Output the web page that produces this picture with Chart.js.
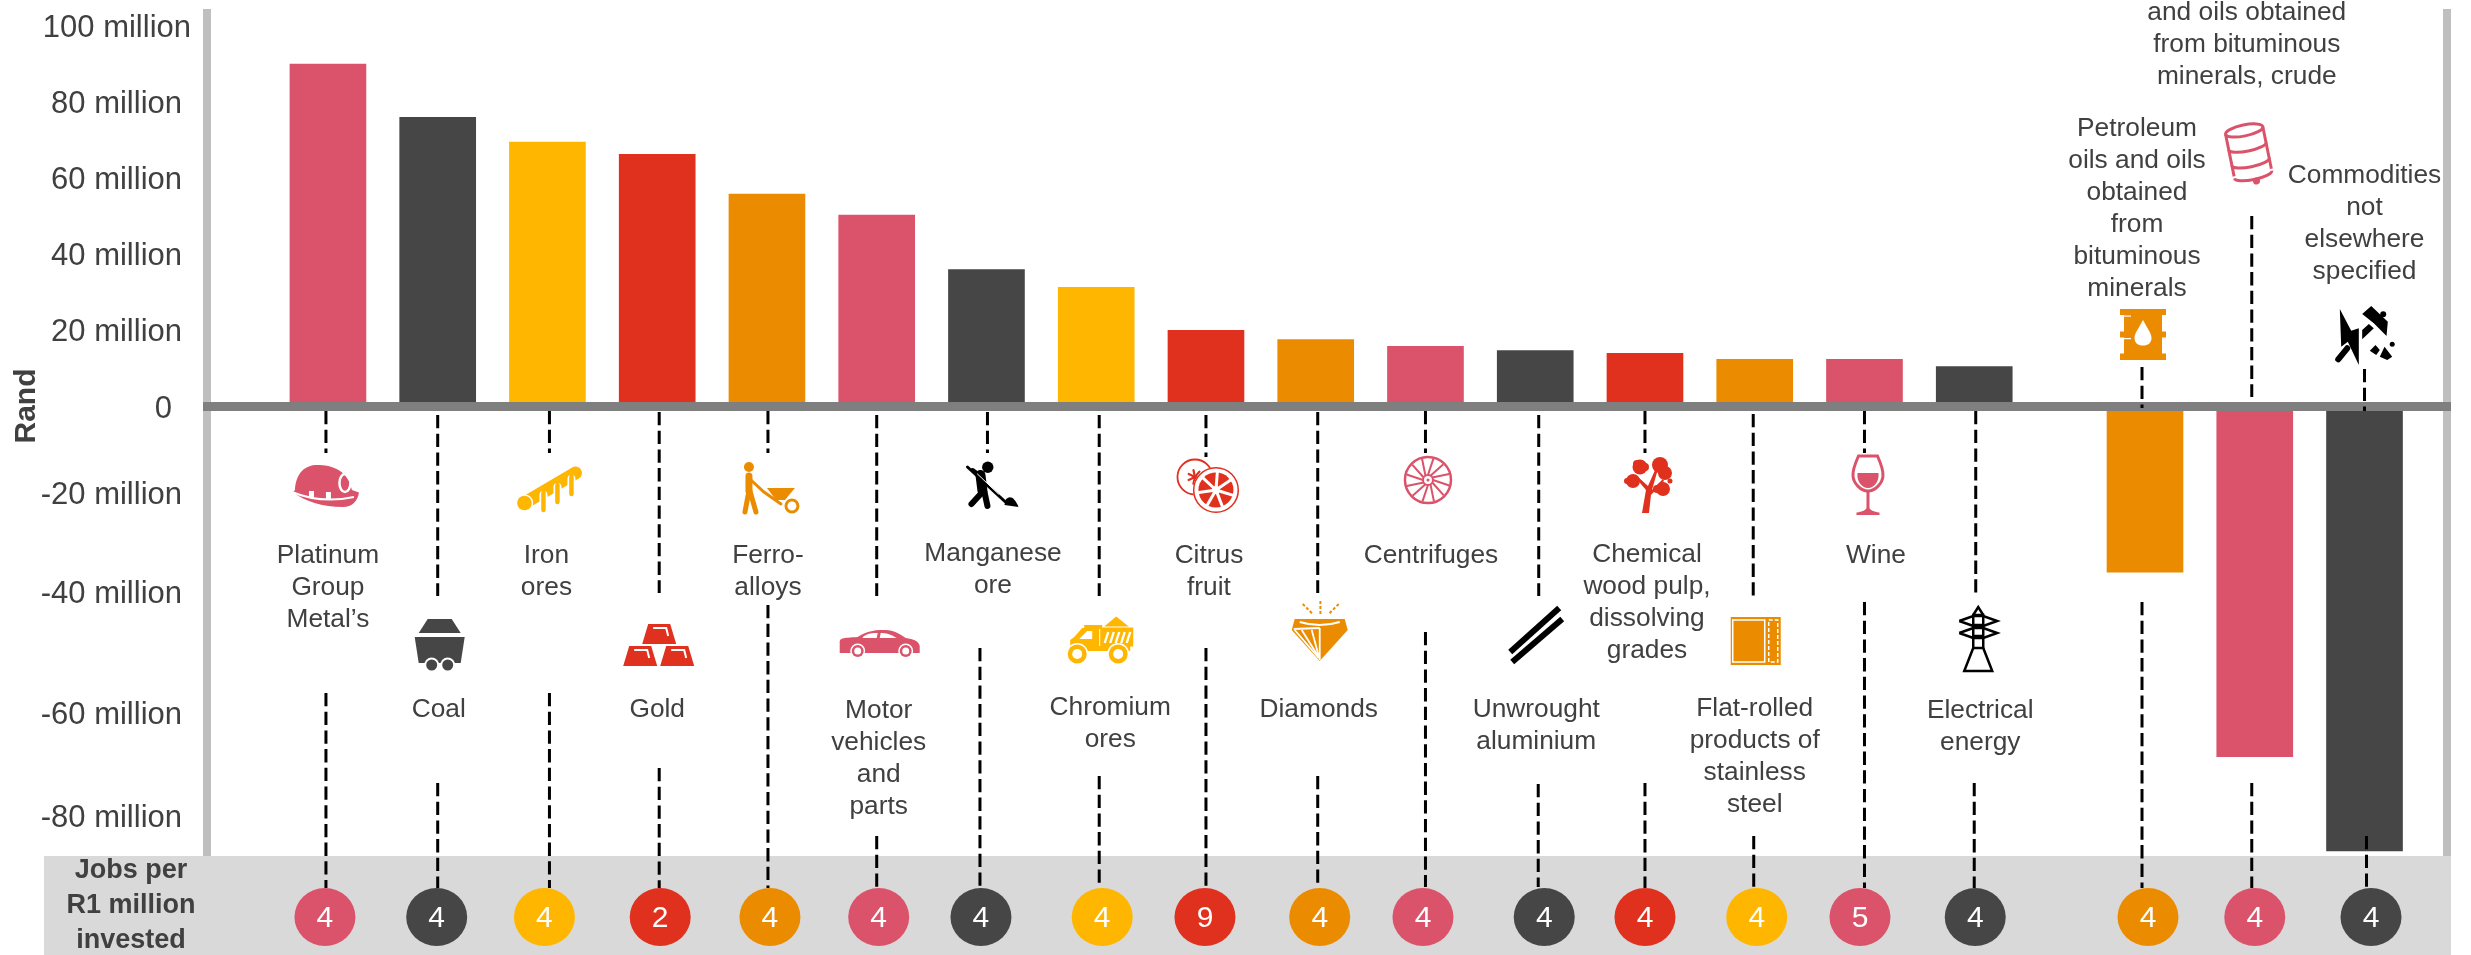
<!DOCTYPE html>
<html>
<head>
<meta charset="utf-8">
<title>Rand per commodity and jobs per R1 million invested</title>
<script src="https://cdn.jsdelivr.net/npm/chart.js@4"></script>
<style>
  html, body { margin: 0; background: #fff; }
  canvas { display: block; }
</style>
</head>
<body>
<canvas id="myChart" width="2471" height="955"></canvas>
<script>
// values in millions of rand, largest surplus first, then the three deficits
const categories = ["Platinum Group Metal's", "Coal", "Iron ores", "Gold", "Ferro-alloys", "Motor vehicles and parts",
  "Manganese ore", "Chromium ores", "Citrus fruit", "Diamonds", "Centrifuges", "Unwrought aluminium",
  "Chemical wood pulp, dissolving grades", "Flat-rolled products of stainless steel", "Wine", "Electrical energy",
  "Petroleum oils and oils obtained from bituminous minerals",
  "Petroleum oils and oils obtained from bituminous minerals, crude", "Commodities not elsewhere specified"];
const randValues = [90, 76, 69.5, 66.3, 55.8, 50.3, 36, 31.3, 20, 17.6, 15.8, 14.7, 14, 12.4, 12.4, 10.5, -36, -68.5, -87];
const jobsValues = [4, 4, 4, 2, 4, 4, 4, 4, 9, 4, 4, 4, 4, 4, 5, 4, 4, 4, 4];
const yTicks = [-80, -60, -40, -20, 0, 20, 40, 60, 80, 100];
const jobsHeading = ["Jobs per", "R1 million", "invested"];

const labelLines = [["Platinum", "Group", "Metal’s"], ["Coal"], ["Iron", "ores"], ["Gold"], ["Ferro-", "alloys"],
  ["Motor", "vehicles", "and", "parts"], ["Manganese", "ore"], ["Chromium", "ores"], ["Citrus", "fruit"], ["Diamonds"],
  ["Centrifuges"], ["Unwrought", "aluminium"], ["Chemical", "wood pulp,", "dissolving", "grades"],
  ["Flat-rolled", "products of", "stainless", "steel"], ["Wine"], ["Electrical", "energy"],
  ["Petroleum", "oils and oils", "obtained", "from", "bituminous", "minerals"],
  ["and oils obtained", "from bituminous", "minerals, crude"], ["Commodities", "not", "elsewhere", "specified"]];

const PINK = "#DB536A", DARK = "#464646", YELLOW = "#FFB600", RED = "#E0301E", ORANGE = "#EB8C00", BLACK = "#000";
const barColors = [PINK, DARK, YELLOW, RED, ORANGE, PINK, DARK, YELLOW, RED, ORANGE, PINK, DARK, RED, ORANGE, PINK, DARK, ORANGE, PINK, DARK];
const jobColors = [PINK, DARK, YELLOW, RED, ORANGE, PINK, DARK, YELLOW, RED, ORANGE, PINK, DARK, RED, YELLOW, PINK, DARK, ORANGE, PINK, DARK];

const GROUP_GAP = 0.556;   // extra slots between the surplus bars and the deficit bars

// the negative half of the axis is not evenly spaced, so the y scale runs through these knots
const knotValues = [-88, -80, -60, -40, -20, 0, 104.47];
const knotOffsets = [847, 807, 704, 583, 484, 397.5, 0];
const tickNudge = { "100": 9, "0": -10 };

// hand placed furniture around each bar, dx is measured from the bar centre
// [labelDx, labelY, icon, iconDx, iconY, jobDx, [leader dx, y0, y1], [leader dx, y0, y1]]
const furniture = [
  [0, 556, "hat", -2, 486, -3, [-2, 411, 453], [-2, 693, 888]],
  [1, 710, "cart", 2, 645, -1, [0, 415, 596], [0, 783, 888]],
  [-1, 556, "rod", 2, 489, -3, [2, 411, 453], [2, 693, 888]],
  [0, 710, "bars", 2, 645, 3, [2, 412, 593], [2, 768, 888]],
  [1, 556, "barrow", 4, 488, 3, [1, 411, 453], [1, 605, 888]],
  [2, 711, "car", 3, 644, 2, [0, 415, 596], [0, 836, 888]],
  [6.5, 554, "digger", 6, 485, -5.5, [1, 412, 453], [-6.5, 648, 887]],
  [14, 708, "truck", 4, 640, 6, [3, 415, 596], [3, 776, 887]],
  [3, 556, "citrus", 2, 485, -1, [0, 415, 457], [0, 648, 887]],
  [3, 710, "diamond", 4, 632, 4, [2, 412, 593], [2, 776, 887]],
  [5.5, 556, "wheel", 2.5, 480, -2.5, [0, 411, 453], [0, 632, 887]],
  [1, 710, "ingots", 1, 635, 9, [3.5, 415, 596], [3, 784, 887]],
  [2, 555, "tree", 4, 486, 0, [0, 411, 453], [0, 783, 888]],
  [0, 709, "sheet", 1, 641, 2, [-1.5, 414, 596], [-1, 836, 887]],
  [11.5, 556, "wine", 3, 485, -4.5, [0, 411, 453], [0, 602, 888]],
  [6, 711, "pylon", 4, 639, 1, [1.5, 411, 593], [0, 783, 888]],
  [-8, 129, "drum", -2, 334, 3, [-3, 367, 408], [-3, 602, 888]],
  [-8, 13, "tilted", -6, 153, 0, [-3, 216, 397], [-3, 783, 888]],
  [0, 176, "hammer", 0, 336, 6.5, [0, 369, 411], [2, 836, 887]]
];

class KnottedScale extends Chart.LinearScale {
  getPixelForValue(value) {
    let i = 0;
    while (i < knotValues.length - 2 && value > knotValues[i + 1]) i++;
    const t = (value - knotValues[i]) / (knotValues[i + 1] - knotValues[i]);
    return this.top + knotOffsets[i] + t * (knotOffsets[i + 1] - knotOffsets[i]);
  }
  getValueForPixel(pixel) {
    const off = pixel - this.top;
    let i = 0;
    while (i < knotOffsets.length - 2 && off < knotOffsets[i + 1]) i++;
    const t = (off - knotOffsets[i]) / (knotOffsets[i + 1] - knotOffsets[i]);
    return knotValues[i] + t * (knotValues[i + 1] - knotValues[i]);
  }
  _computeLabelItems(area) {
    const items = super._computeLabelItems(area);
    items.forEach((item, i) => {
      const pos = (item.options || item).translation;
      pos[0] += tickNudge[this.ticks[i].value] || 0;
      pos[1] += 2.5;
    });
    return items;
  }
}
KnottedScale.id = "knotted";
KnottedScale.defaults = Chart.LinearScale.defaults;
Chart.register(KnottedScale);

// little line drawings, each centred on 0,0
function blob(c, path) { c.fill(new Path2D(path)); }
function disc(c, x, y, r) { c.beginPath(); c.arc(x, y, r, 0, Math.PI * 2); c.fill(); }
function ring(c, x, y, r) { c.beginPath(); c.arc(x, y, r, 0, Math.PI * 2); c.stroke(); }
function seg(c, ...p) {
  c.beginPath();
  c.moveTo(p[0], p[1]);
  for (let i = 2; i < p.length; i += 2) c.lineTo(p[i], p[i + 1]);
  c.stroke();
}
const icons = {
  hat(c, col) {
    blob(c, "M-31 4C-30-14-20-21-9-21C6-21 22-16 26 4L33 6.5C32 15 26 21 17 21C-3 21-22 15-33 6Z");
    c.strokeStyle = "#fff"; c.lineWidth = 2;
    c.stroke(new Path2D("M-34 6Q-5 18 28 11"));
    c.fillStyle = "#fff";
    c.fillRect(-17, 5, 5, 7); c.fillRect(0, 6, 5, 7);
    c.lineWidth = 2.5;
    c.beginPath(); c.ellipse(19, -3, 5.5, 9, 0, 0, Math.PI * 2); c.stroke();
  },
  cart(c, col) {
    blob(c, "M-21-12L-12-26H12L21-12Z");
    blob(c, "M-25-8H25L21 18H-21Z");
    c.fillStyle = "#fff"; disc(c, -8, 20, 7.5); disc(c, 8, 20, 7.5);
    c.fillStyle = col; disc(c, -8, 20, 5.5); disc(c, 8, 20, 5.5);
  },
  rod(c, col) {
    c.strokeStyle = col; c.lineCap = "round";
    c.lineWidth = 13; seg(c, -25, 14, 26, -16);
    for (const [x, y0, y1] of [[-6, 6, 21], [8, -2, 13], [22, -10, 5]]) {
      c.strokeStyle = "#fff"; c.lineWidth = 8; seg(c, x, y0, x, y1 - 1);
      c.strokeStyle = col; c.lineWidth = 4.5; seg(c, x, y0 - 2, x, y1);
    }
    c.fillStyle = "#fff"; disc(c, -25, 14, 8.7);
    c.fillStyle = col; disc(c, -25, 14, 7.3);
  },
  bars(c, col) {
    const bar = (x, y) => {
      c.fillStyle = col;
      blob(c, `M${x - 11} ${y - 10}H${x + 11}L${x + 17} ${y + 10}H${x - 17}Z`);
      c.strokeStyle = "#fff"; c.lineWidth = 2;
      seg(c, x - 6, y - 6, x + 7, y - 6, x + 9, y + 2);
    };
    bar(0, -11); bar(-19, 11); bar(18, 11);
  },
  barrow(c, col) {
    c.strokeStyle = col; c.lineCap = "round";
    disc(c, -22, -21, 5);
    c.lineWidth = 7; seg(c, -22, -12, -22, 3);
    c.lineWidth = 5; seg(c, -22, 3, -26, 24); seg(c, -21, 3, -15, 24);
    c.lineWidth = 3; seg(c, -20, -8, -7, 4, 10, 16);
    blob(c, "M-4 0H24L14 12H5Z");
    c.lineWidth = 3; ring(c, 21, 18, 6);
  },
  car(c, col) {
    blob(c, "M-40 -1C-40-6-38-6-22-7C-12-14-2-14 6-14C14-14 20-10 26-6C34-5 39-3 40 2V9H-40Z");
    c.fillStyle = "#fff";
    blob(c, "M-17-7C-12-11-7-11-2-11L-3-6H-17ZM1-11C6-11 11-10 17-6H0Z");
    disc(c, -22, 7, 7.5); disc(c, 26, 7, 7.5);
    c.fillStyle = col; disc(c, -22, 7, 6); disc(c, 26, 7, 6);
    c.fillStyle = "#fff"; disc(c, -22, 7, 3.5); disc(c, 26, 7, 3.5);
  },
  digger(c, col) {
    c.strokeStyle = col; c.lineCap = "round";
    disc(c, -4.7, -17.7, 5.7);
    c.lineWidth = 10; seg(c, -12, -10, -10, 6);
    c.lineWidth = 6; seg(c, -10, 7, -21, 19); seg(c, -8, 7, -5, 21);
    c.lineWidth = 4; seg(c, -13, -10, -20, -15);
    c.lineWidth = 3; seg(c, -25, -18, 13, 17);
    c.strokeStyle = "#fff"; c.lineWidth = 1; seg(c, -15, -11, 6, 9);
    blob(c, "M13 15C17 10 22 12 26 22L12 20Z");
  },
  truck(c, col) {
    c.fillRect(0, -12.5, 33, 19);
    blob(c, "M4-13.5L16-23.5L28.5-13.5Z");
    c.fillRect(-16, -15, 18, 4);
    blob(c, "M-1-12H-18L-26-3L-30 0V11H30V6H-1Z");
    c.fillStyle = "#fff";
    blob(c, "M-21-1L-13-9H-8V-1Z");
    c.strokeStyle = "#fff"; c.lineWidth = 2.4;
    for (let x = 6; x < 30; x += 5.5) seg(c, x + 2, -8, x - 1.5, 3);
    disc(c, -23, 14, 11); disc(c, 18, 14, 11);
    c.fillStyle = col; disc(c, -23, 14, 9.5); disc(c, 18, 14, 9.5);
    c.fillStyle = "#fff"; disc(c, -23, 14, 5); disc(c, 18, 14, 5);
  },
  citrus(c, col) {
    c.strokeStyle = col; c.lineWidth = 1.8;
    ring(c, -13, -8, 17.5);
    c.lineCap = "round"; c.lineWidth = 2.2;
    for (let a = 0; a < 7; a++) seg(c, -13, -8, -13 + 7 * Math.cos(a * .9), -8 + 7 * Math.sin(a * .9));
    c.fillStyle = "#fff"; disc(c, 8, 5, 23);
    c.lineWidth = 1.5; ring(c, 8, 5, 22.3);
    c.fillStyle = col; disc(c, 8, 5, 17.5);
    c.strokeStyle = "#fff"; c.lineWidth = 3; c.lineCap = "butt";
    for (let a = 0; a < 7; a++) seg(c, 8, 5, 8 + 19 * Math.cos(a * .898 + .3), 5 + 19 * Math.sin(a * .898 + .3));
    c.fillStyle = "#fff"; disc(c, 8, 5, 4);
  },
  diamond(c, col) {
    blob(c, "M-25-13H25L28-2L0 29L-28-2Z");
    c.strokeStyle = "#fff"; c.lineWidth = 2;
    c.stroke(new Path2D("M-20-10C-7-6 7-6 20-10"));
    c.lineWidth = 1.8;
    seg(c, -26, -3, 0, -4);
    seg(c, -25, -2, -1, 26); seg(c, -18, -2, -.5, 26); seg(c, -8, -2, -.5, 26); seg(c, 0, -4, 0, 28);
    c.strokeStyle = col; c.lineWidth = 2; c.setLineDash([3, 2]);
    seg(c, .7, -31, .7, -17); seg(c, -17, -28, -7, -18); seg(c, 19, -28, 9, -18);
    c.setLineDash([]);
  },
  wheel(c, col) {
    c.strokeStyle = col; c.lineWidth = 2.5; ring(c, 0, 0, 23);
    c.lineWidth = 2;
    for (let a = 0; a < 12; a++) {
      const t = a * Math.PI / 6;
      seg(c, 5 * Math.cos(t), 5 * Math.sin(t), 22 * Math.cos(t + .25), 22 * Math.sin(t + .25));
    }
    ring(c, 0, 0, 5);
    disc(c, 0, 0, 1.5);
  },
  ingots(c, col) {
    c.strokeStyle = col; c.lineWidth = 6;
    seg(c, -26, 17, 23, -27);
    seg(c, -24, 27, 26, -16);
  },
  tree(c, col) {
    blob(c, "M-7 27L-3 4L-14-9L-12-10L-1 0L7-18L9-17L3 4L14-7L15-5L2 9L0 27Z");
    for (const [x, y, r] of [[-9, -19, 7.5], [-12, -22, 4], [-4, -19, 4], [11, -21, 8], [16, -13, 7], [-16, -5, 7], [-22, -5, 3], [14, 3, 7], [21, -5, 2.5], [8, 3, 4]]) disc(c, x, y, r);
  },
  sheet(c, col) {
    c.fillRect(-25, -24, 50, 48);
    c.strokeStyle = "#fff"; c.lineWidth = 1.5;
    c.strokeRect(-23, -21, 32, 42);
    c.setLineDash([4, 2]); c.strokeRect(13, -21, 9, 42); c.setLineDash([]);
  },
  wine(c, col) {
    c.strokeStyle = col; c.lineWidth = 3;
    c.stroke(new Path2D("M-9-29H10C14-20 16-14 15.5-9C15-2 8 6 .5 6C-7 6-14-2-14.5-9C-15-14-13-20-9-29Z"));
    blob(c, "M-10-12H11C12-4 7 3 .5 3C-6 3-11-4-10-12Z");
    seg(c, .5, 6, .5, 26);
    blob(c, "M-11 27.5C-5 27-2 25 .5 22C3 25 6 27 12 27.5V30H-11Z");
  },
  pylon(c, col) {
    c.strokeStyle = col; c.lineWidth = 2.5;
    seg(c, -5, -24, 0, -32, 5, -24);
    c.strokeRect(-5, -24, 10, 33);
    seg(c, -5, -14, 5, -14); seg(c, -5, -3, 5, -3);
    seg(c, -19, -18, -5, -23, 5, -23, 19, -18, 5, -13, -5, -13, -19, -18);
    seg(c, -19, -6, -5, -11, 5, -11, 19, -6, 5, -1, -5, -1, -19, -6);
    seg(c, -5, 9, -14, 32, 14, 32, 5, 9);
  },
  drum(c, col) {
    c.fillRect(-23, -25, 46, 6); c.fillRect(-23, 19.5, 46, 6.5);
    c.fillRect(-19, -25, 38, 51);
    c.fillRect(-23, -2.5, 46, 6);
    c.fillStyle = "#fff";
    c.fillRect(-23, -18.5, 11, 1.2); c.fillRect(-23, 4, 11, 1.2);
    blob(c, "M0-14C4-6 8.5-1 8.5 4C8.5 9 5 11.5 0 11.5C-5 11.5-8.5 9-8.5 4C-8.5-1-4-6 0-14Z");
  },
  tilted(c, col) {
    c.rotate(-0.2);
    c.strokeStyle = col; c.lineWidth = 3;
    c.beginPath(); c.ellipse(0, -23, 19, 5.5, 0, 0, Math.PI * 2); c.stroke();
    seg(c, -19, -23, -19, 20); seg(c, 19, -23, 19, 20);
    for (const y of [-7, 9, 22]) { c.beginPath(); c.ellipse(0, y, 19, 5, 0, 0, Math.PI); c.stroke(); }
    disc(c, 2, 29, 3.5);
  },
  hammer(c, col) {
    blob(c, "M-24.7-27L-13.3-5.3L-5.7-7.7V29L-16.7 5.7L-23.3 10.7Z");
    blob(c, "M-2.3-22L6.7-30L23.3-14.3L22 0L9.3-12.7Z");
    blob(c, "M-2.3 3.3V-6L4.3-12L9.3-7.7Z");
    disc(c, 18.7, -21.7, 3);
    c.strokeStyle = col; c.lineWidth = 6; c.lineCap = "round"; seg(c, -26.3, 23.3, -17.3, 12.3);
    blob(c, "M5.3 14.7L11 9L15.3 14L11.7 19Z");
    blob(c, "M20 10.7L27.7 20.7L22.7 24L15.3 20.7Z");
    disc(c, 27.7, 8.3, 2.5);
  }
};

const FONT = '"Liberation Sans", Arial, sans-serif';

const furniturePlugin = {
  id: "furniture",
  beforeDraw(chart) {
    const c = chart.ctx, area = chart.chartArea;
    c.save();
    c.fillStyle = "#D9D9D9";                       // jobs band along the bottom
    c.fillRect(44, area.bottom, area.right - 44, chart.height - area.bottom);
    c.fillStyle = "#BFBFBF";                       // side rules, left and right
    c.fillRect(area.left - 4, area.top, 8, area.bottom - area.top);
    c.fillRect(area.right - 8, area.top, 8, area.bottom - area.top);
    c.restore();
  },
  afterDraw(chart) {
    const c = chart.ctx, xs = chart.scales.x;
    c.save();

    c.fillStyle = "#404040";
    c.textAlign = "center";
    c.textBaseline = "middle";
    c.font = "bold 27px " + FONT;
    jobsHeading.forEach((t, i) => c.fillText(t, 131, 871 + i * 35));

    c.save();
    c.translate(27, 406);
    c.rotate(-Math.PI / 2);
    c.font = "bold 30px " + FONT;
    c.fillText("Rand", 0, 0);
    c.restore();

    furniture.forEach((f, i) => {
      const cx = xs.getPixelForValue(slots[i]);
      const [labelDx, labelY, icon, iconDx, iconY, jobDx, lead1, lead2] = f;

      c.strokeStyle = "#000";
      c.lineWidth = 3;
      c.setLineDash([13.3, 5.4]);
      for (const [dx, y0, y1] of [lead1, lead2]) seg(c, cx + dx, y0, cx + dx, y1);
      c.setLineDash([]);

      c.fillStyle = "#404040";
      c.font = "26.3px " + FONT;
      labelLines[i].forEach((t, n) => c.fillText(t, cx + labelDx, labelY + n * 32));

      c.save();
      c.translate(cx + iconDx, iconY);
      const col = ["digger", "ingots", "pylon", "hammer"].includes(icon) ? BLACK : barColors[i];
      c.fillStyle = col;
      c.strokeStyle = col;
      icons[icon](c, col);
      c.restore();

      c.fillStyle = jobColors[i];
      c.beginPath();
      c.ellipse(cx + jobDx, 917, 30.5, 29, 0, 0, Math.PI * 2);
      c.fill();
      c.fillStyle = "#fff";
      c.font = "30px " + FONT;
      c.fillText(String(jobsValues[i]), cx + jobDx, 919);
    });
    c.restore();
  }
};

const slots = randValues.map((v, i) => (v < 0 ? i + GROUP_GAP : i));

const myChart = new Chart(document.getElementById("myChart").getContext("2d"), {
  type: "bar",
  data: {
    labels: categories,
    datasets: [{
      label: "Rand",
      data: randValues.map((v, i) => ({ x: slots[i], y: v })),
      backgroundColor: barColors,
      barThickness: 76
    }]
  },
  plugins: [furniturePlugin],
  options: {
    responsive: false,
    animation: false,
    layout: { autoPadding: false, padding: { top: 9, bottom: 99, right: 20, left: 0 } },
    plugins: { legend: { display: false }, tooltip: { enabled: false } },
    scales: {
      x: {
        type: "linear",
        display: false,
        offset: false,
        min: -1.102,
        max: 19.344
      },
      y: {
        type: "knotted",
        min: knotValues[0],
        max: knotValues[knotValues.length - 1],
        afterFit(scale) {
          scale.width = 207;
          scale.paddingTop = 0;
          scale.paddingBottom = 0;
        },
        afterBuildTicks(scale) { scale.ticks = yTicks.map(value => ({ value })); },
        ticks: {
          autoSkip: false,
          padding: 21,
          color: "#404040",
          font: { family: "Liberation Sans", size: 31 },
          callback: v => (v === 0 ? "0" : v + " million")
        },
        border: { display: false },
        grid: {
          z: 1,                 // zero line runs over the feet of the bars
          color: "#7F7F7F",
          tickLength: 4,
          lineWidth: ctx => (ctx.tick && ctx.tick.value === 0 ? 9 : 0)
        }
      }
    }
  }
});
</script>
</body>
</html>
